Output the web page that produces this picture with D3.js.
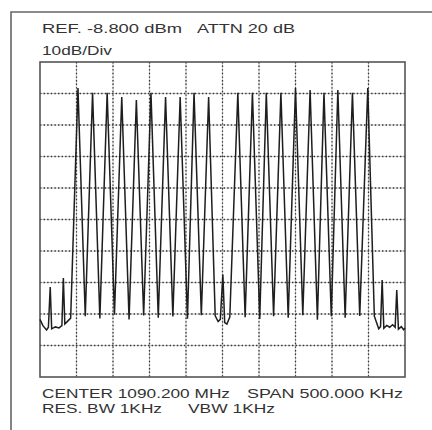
<!DOCTYPE html>
<html>
<head>
<meta charset="utf-8">
<script src="https://cdn.jsdelivr.net/npm/d3@7"></script>
<style>
  html, body { margin: 0; padding: 0; background: #fff; }
  svg { display: block; }
</style>
</head>
<body>
<svg id="chart" width="432" height="430"></svg>
<script>
// ---- settings ----
const refLevelDbm = -8.8;
const dbPerDiv = 10;
const verticalDivs = 10;
const spanKHz = 500;
const horizontalDivs = 10;

// ---- annotation texts ----
const headerTexts = ["REF. -8.800 dBm", "ATTN 20 dB", "10dB/Div"];
const footerTexts = ["CENTER 1090.200 MHz", "SPAN 500.000 KHz", "RES. BW 1KHz", "VBW 1KHz"];

// ---- trace: main spectral lines (offset from centre, kHz / level dBm) ----
const peakKHz = [-198, -178, -158, -138, -118, -98, -78, -58, -39, -19,
                 21, 41, 60, 80, 100, 120, 139, 158, 178, 199];
const peakDbm = [-17.1, -18.6, -18.6, -19.9, -20.9, -18.6, -19.9, -19.9, -18.6, -19.9,
                 -18.6, -18.6, -18.6, -18.6, -17.1, -17.7, -18.6, -17.7, -18.6, -17.1];

// ---- trace: troughs between main lines ----
const troughKHz = [-188, -168, -148, -128, -108, -88, -68, -48, -29,
                   31, 51, 70, 90, 110, 130, 149, 168, 188];
const troughDbm = [-89.5, -90.2, -89.0, -90.5, -89.3, -90.0, -89.6, -90.3, -89.2,
                   -89.8, -90.4, -89.5, -90.0, -89.2, -90.6, -89.5, -90.0, -89.4];

// ---- trace: noise floor and small lines (left edge, centre, right edge) ----
const noiseKHz = [-250, -246, -241, -238.5, -236, -234, -229, -224, -220, -218, -216, -213, -208,
                  -10, -6, -3, 0.5, 3, 6, 10,
                  208, 211, 214, 216.5, 218.7, 221, 225, 229, 233, 236.5, 238.7, 241, 245, 248, 250];
const noiseDbm = [-90.5, -92.5, -93.9, -93.0, -80.2, -93.5, -92.9, -93.2, -92.5, -77.4, -92.0, -91.3, -90.1,
                  -89.4, -91.2, -90.5, -76.3, -91.5, -92.0, -89.8,
                  -89.5, -91.5, -93.5, -92.8, -78.0, -93.3, -92.4, -93.0, -92.2, -93.0, -81.2, -93.6, -92.8, -93.8, -93.2];

// ---- build ----
const svg = d3.select("#chart");
const plot = { left: 40, top: 62, right: 405, bottom: 377 };

const x = d3.scaleLinear().domain([-spanKHz / 2, spanKHz / 2]).range([plot.left, plot.right]);
const y = d3.scaleLinear()
  .domain([refLevelDbm - dbPerDiv * verticalDivs, refLevelDbm])
  .range([plot.bottom, plot.top]);

const font = "'Liberation Sans', Arial, Helvetica, sans-serif";

// outer frame (open on the right/bottom)
svg.append("path")
  .attr("d", "M11,430 L11,12 L432,12")
  .attr("fill", "none").attr("stroke", "#666").attr("stroke-width", 1.6);

// grid
const xGrid = d3.range(1, horizontalDivs).map(i => -spanKHz / 2 + i * spanKHz / horizontalDivs);
const yGrid = d3.range(1, verticalDivs).map(i => refLevelDbm - i * dbPerDiv);

const g = svg.append("g");
g.selectAll(".vg").data(xGrid).enter().append("line")
  .attr("x1", d => x(d)).attr("x2", d => x(d))
  .attr("y1", plot.top).attr("y2", plot.bottom)
  .attr("stroke", "#c8c8c8").attr("stroke-width", 1);
g.selectAll(".hg").data(yGrid).enter().append("line")
  .attr("y1", d => y(d)).attr("y2", d => y(d))
  .attr("x1", plot.left).attr("x2", plot.right)
  .attr("stroke", "#c8c8c8").attr("stroke-width", 1);
g.selectAll(".vgd").data(xGrid).enter().append("line")
  .attr("x1", d => x(d)).attr("x2", d => x(d))
  .attr("y1", plot.top).attr("y2", plot.bottom)
  .attr("stroke", "#333").attr("stroke-width", 1.3).attr("stroke-dasharray", "1.4,2.2");
g.selectAll(".hgd").data(yGrid).enter().append("line")
  .attr("y1", d => y(d)).attr("y2", d => y(d))
  .attr("x1", plot.left).attr("x2", plot.right)
  .attr("stroke", "#333").attr("stroke-width", 1.3).attr("stroke-dasharray", "1.4,2.2");

// plot frame
svg.append("rect")
  .attr("x", plot.left).attr("y", plot.top)
  .attr("width", plot.right - plot.left).attr("height", plot.bottom - plot.top)
  .attr("fill", "none").attr("stroke", "#555").attr("stroke-width", 1.6);

// trace
const pts = [];
peakKHz.forEach((k, i) => pts.push([k, peakDbm[i]]));
troughKHz.forEach((k, i) => pts.push([k, troughDbm[i]]));
noiseKHz.forEach((k, i) => pts.push([k, noiseDbm[i]]));
pts.sort((a, b) => a[0] - b[0]);

const line = d3.line().x(d => x(d[0])).y(d => y(d[1]));
svg.append("path")
  .datum(pts)
  .attr("d", line)
  .attr("fill", "none")
  .attr("stroke", "#1e1e1e")
  .attr("stroke-width", 1.5)
  .attr("stroke-linejoin", "miter")
  .attr("stroke-miterlimit", 3);

// texts
function label(t, x0, x1, yb) {
  svg.append("text")
    .attr("x", x0).attr("y", yb)
    .attr("textLength", x1 - x0).attr("lengthAdjust", "spacingAndGlyphs")
    .attr("font-family", font).attr("font-size", 13)
    .attr("fill", "#333")
    .text(t);
}
label(headerTexts[0], 42, 182, 33);
label(headerTexts[1], 197, 295, 33);
label(headerTexts[2], 42, 112, 55);
label(footerTexts[0], 42, 230, 398);
label(footerTexts[1], 247, 403, 398);
label(footerTexts[2], 42, 162, 413);
label(footerTexts[3], 188, 275, 413);
</script>
</body>
</html>
